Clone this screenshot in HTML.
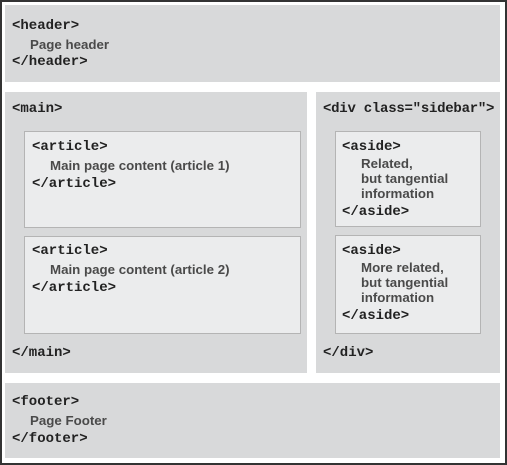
<!DOCTYPE html>
<html><head><style>
body{margin:0;width:507px;height:465px;background:#fff;position:relative;overflow:hidden}
.frame{position:absolute;left:0;top:0;width:503px;height:461px;border:2px solid #333}
.b{position:absolute;background:#d8d9da}
.i{position:absolute;background:#ebeced;border:1px solid #b4b4b4;box-sizing:border-box}
.t{position:absolute;white-space:nowrap}
.m{font-family:"Liberation Mono",monospace;font-weight:bold;font-size:14px;color:#222;line-height:16px}
.s{font-family:"Liberation Sans",sans-serif;font-weight:bold;font-size:13.3px;color:#4a4a4a;line-height:15px}
</style></head><body>
<div class="frame"></div>
<div class="b" style="left:5px;top:5px;width:495px;height:77px"></div>
<div class="b" style="left:5px;top:92px;width:302px;height:281px"></div>
<div class="b" style="left:316px;top:92px;width:184px;height:281px"></div>
<div class="b" style="left:5px;top:383px;width:495px;height:75px"></div>
<div class="i" style="left:24px;top:131px;width:277px;height:97px"></div>
<div class="i" style="left:24px;top:236px;width:277px;height:98px"></div>
<div class="i" style="left:335px;top:131px;width:146px;height:96px"></div>
<div class="i" style="left:335px;top:235px;width:146px;height:99px"></div>

<div class="t m" style="left:12px;top:18px">&lt;header&gt;</div>
<div class="t s" style="left:30px;top:37px">Page header</div>
<div class="t m" style="left:12px;top:54px">&lt;/header&gt;</div>

<div class="t m" style="left:12px;top:101px">&lt;main&gt;</div>
<div class="t m" style="left:32px;top:139px">&lt;article&gt;</div>
<div class="t s" style="left:50px;top:158px">Main page content (article 1)</div>
<div class="t m" style="left:32px;top:176px">&lt;/article&gt;</div>
<div class="t m" style="left:32px;top:243px">&lt;article&gt;</div>
<div class="t s" style="left:50px;top:262px">Main page content (article 2)</div>
<div class="t m" style="left:32px;top:280px">&lt;/article&gt;</div>
<div class="t m" style="left:12px;top:345px">&lt;/main&gt;</div>

<div class="t m" style="left:323px;top:101px;letter-spacing:-0.25px">&lt;div class="sidebar"&gt;</div>
<div class="t m" style="left:342px;top:139px">&lt;aside&gt;</div>
<div class="t s" style="left:361px;top:156px">Related,<br>but tangential<br>information</div>
<div class="t m" style="left:342px;top:204px">&lt;/aside&gt;</div>
<div class="t m" style="left:342px;top:243px">&lt;aside&gt;</div>
<div class="t s" style="left:361px;top:260px">More related,<br>but tangential<br>information</div>
<div class="t m" style="left:342px;top:308px">&lt;/aside&gt;</div>
<div class="t m" style="left:323px;top:345px">&lt;/div&gt;</div>

<div class="t m" style="left:12px;top:394px">&lt;footer&gt;</div>
<div class="t s" style="left:30px;top:413px">Page Footer</div>
<div class="t m" style="left:12px;top:431px">&lt;/footer&gt;</div>
</body></html>
